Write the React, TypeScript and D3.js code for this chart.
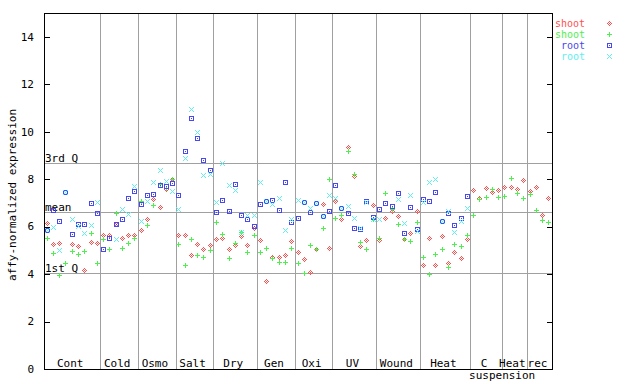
import React, { useEffect, useRef } from 'react';
import * as d3 from 'd3';

// sample groups along the x axis
const groups = ['Cont', 'Cold', 'Osmo', 'Salt', 'Dry', 'Gen', 'Oxi', 'UV', 'Wound', 'Heat', 'C suspension', 'Heat', 'rec'];
const groupSizes = [9, 6, 6, 6, 7, 6, 6, 7, 7, 8, 5, 4, 4];

// shoot, replicate 1 (red diamonds)
const shootA = [
  6.14, 5.26, 5.30, null, 5.26, 5.16, 4.15, 5.33, 5.30,
  5.64, 5.61, 6.10, 5.51, 5.61, 5.64,
  5.82, 6.31, 7.15, 6.82, 7.55, 7.97,
  5.64, 5.61, 4.80, 5.26, 5.05, 5.22,
  5.47, 5.51, 5.05, 5.20, 5.60, 5.19, 5.93,
  5.43, 3.69, 4.71, 4.71, 4.80, 5.39,
  4.90, 4.60, 4.08, 5.05, 6.95, 5.06,
  7.06, 6.31, 9.33, 8.13, 5.16, 5.40, 6.90,
  5.40, 6.36, 6.62, 6.44, 5.47, 5.72, 6.65,
  4.37, 5.51, 4.37, 5.60, 4.43, 4.92, 4.67, 5.47,
  7.52, 7.20, 7.62, 7.45, 7.53,
  7.66, 7.66, 7.57, 7.96,
  7.49, 7.66, 6.45, 7.20,
];

// shoot, replicate 2 (green plus)
const shootB = [
  5.51, 4.85, 3.92, 4.46, 4.95, 4.81, 4.95, 5.72, 4.46,
  5.44, 5.02, 6.54, 5.09, 5.27, 5.50,
  7.07, 6.06, 6.90, 7.79, 7.62, 8.00,
  5.26, 4.34, 5.47, 4.77, 4.71, 4.99,
  6.19, 5.68, 4.67, 5.30, 5.75, 4.92, 5.64,
  4.92, 5.09, 4.67, 4.50, 4.50, 5.09,
  4.46, 4.03, 5.22, 5.05, 5.93, 8.00,
  6.36, 6.48, 9.18, 8.21, 5.34, 5.02, 6.30,
  5.51, 7.38, 6.70, 6.10, 5.47, 5.39, 6.19,
  4.71, 4.00, 4.84, 5.02, 4.29, 5.26, 5.17, 5.64,
  6.45, 7.15, 7.24, 7.57, 7.24,
  7.28, 8.04, 7.41, 7.20,
  7.37, 6.69, 6.27, 6.19,
];

// root, replicate 1 (blue squares)
const rootA = [
  5.84, 6.68, 6.23, 7.44, 5.65, 6.10, 6.10, 6.96, 6.54,
  5.02, 5.48, 6.10, 6.28, 7.20, 7.49,
  6.94, 7.30, 7.37, 7.74, 7.70, 7.80,
  7.32, 9.18, 10.57, 9.73, 8.80, 8.38,
  6.61, 7.11, 6.65, 7.79, 6.48, 6.31, 6.02,
  6.95, 7.07, 7.11, 6.69, 7.87, 6.19,
  6.36, 7.00, 6.61, 6.97, 6.42, 6.65,
  7.72, 6.76, 6.57, 5.93, 5.86, 7.07, 6.38,
  6.74, 6.96, 6.86, 7.38, 5.72, 6.82, 5.89,
  7.15, 7.07, 7.45, 6.23, 6.57, 6.06, 6.36, 7.25,
  null, null, null, null, null,
  null, null, null, null,
  null, null, null, null,
];

// root, replicate 2 (cyan crosses)
const rootB = [
  5.84, 5.98, 4.98, 7.44, 6.28, 6.00, 5.69, 6.03, 7.00,
  null, null, 5.47, 6.74, 6.50, 7.69,
  6.20, 7.04, 7.87, 8.37, 7.90, 7.49,
  6.74, 8.88, 10.95, 9.98, 8.17, 8.21,
  7.03, 8.67, 7.75, 7.53, 5.75, 6.48, 6.48,
  7.87, 7.07, 6.95, 7.20, 5.85, 6.31,
  7.10, 7.00, 6.76, 6.97, 6.42, 7.32,
  7.20, 6.76, 6.86, 6.36, 5.90, 7.00, 6.30,
  6.28, null, null, 7.14, 6.14, 7.32, 5.80,
  7.00, 7.87, 8.00, 6.23, 6.65, 5.77, 6.23, 6.78,
  null, null, null, null, null,
  null, null, null, null,
  null, null, null, null,
];

const seriesNames = ['shoot', 'shoot', 'root', 'root'];
const refLabels = ['3rd Q', 'mean', '1st Q'];
const refValues = [8.69, 6.63, 4.05];
const yTicks = [0, 2, 4, 6, 8, 10, 12, 14];

// little pixel shapes, like the old bitmap plotter
const shapes = {
  diamond: [[0, -2], [-1, -1], [1, -1], [-2, 0], [0, 0], [2, 0], [-1, 1], [1, 1], [0, 2]],
  plus: [[-2, 0], [-1, 0], [0, 0], [1, 0], [2, 0], [0, -2], [0, -1], [0, 1], [0, 2]],
  square: [[-2, -2], [-1, -2], [0, -2], [1, -2], [2, -2], [-2, 2], [-1, 2], [0, 2], [1, 2], [2, 2],
    [-2, -1], [-2, 0], [-2, 1], [2, -1], [2, 0], [2, 1], [0, 0]],
  cross: [[-2, -2], [-1, -1], [0, 0], [1, 1], [2, 2], [-2, 2], [-1, 1], [1, -1], [2, -2]],
};

const pixPath = (offs: number[][], cx: number, cy: number) => {
  const px = Math.floor(cx);
  const py = Math.floor(cy);
  return offs.map(([dx, dy]) => `M${px + dx},${py + dy}h1v1h-1z`).join('');
};

const App = () => {
  const svgRef = useRef<SVGSVGElement>(null);

  useEffect(() => {
    const width = 640;
    const height = 384;
    const margin = { top: 13, right: 88, bottom: 15, left: 44 };
    const x0 = margin.left;
    const x1 = width - margin.right;
    const yTop = margin.top;
    const yBot = height - margin.bottom;
    const font = "'DejaVu Sans Mono', monospace";
    const grid = '#a0a0a0';

    const svg = d3.select(svgRef.current).attr('width', width).attr('height', height);
    svg.selectAll('*').remove();

    const n = d3.sum(groupSizes);
    const x = d3.scaleBand<number>().domain(d3.range(n)).range([x0, x1]).padding(0);
    const y = d3.scaleLinear().domain([0, 15]).range([yBot, yTop]);
    const cx = (i: number) => (x(i) as number) + x.bandwidth() / 2;

    const starts = groupSizes.map((s, i) => d3.sum(groupSizes.slice(0, i)));

    // group separators
    svg.append('g')
      .selectAll('line')
      .data(starts.slice(1))
      .enter()
      .append('line')
      .attr('x1', d => Math.round(x(d) as number) + 0.5)
      .attr('x2', d => Math.round(x(d) as number) + 0.5)
      .attr('y1', yTop)
      .attr('y2', yBot)
      .attr('stroke', grid);

    // quartile / mean lines
    svg.append('g')
      .selectAll('line')
      .data(refValues)
      .enter()
      .append('line')
      .attr('x1', x0)
      .attr('x2', x1)
      .attr('y1', d => Math.round(y(d)) + 0.5)
      .attr('y2', d => Math.round(y(d)) + 0.5)
      .attr('stroke', grid);

    svg.append('g')
      .selectAll('text')
      .data(refValues)
      .enter()
      .append('text')
      .attr('x', x0 + 1)
      .attr('y', d => Math.round(y(d)) - 1)
      .attr('font-family', font)
      .attr('font-size', 11)
      .text((d, i) => refLabels[i]);

    // frame
    svg.append('rect')
      .attr('x', x0 + 0.5)
      .attr('y', yTop + 0.5)
      .attr('width', x1 - x0)
      .attr('height', yBot - yTop)
      .attr('fill', 'none')
      .attr('stroke', '#000');

    // ticks on both sides, pointing in
    const tk = svg.append('g').attr('stroke', '#000');
    yTicks.forEach(t => {
      const ty = Math.round(y(t)) + 0.5;
      tk.append('line').attr('x1', x0).attr('x2', x0 + 6).attr('y1', ty).attr('y2', ty);
      tk.append('line').attr('x1', x1 - 5).attr('x2', x1).attr('y1', ty).attr('y2', ty);
    });

    svg.append('g')
      .selectAll('text')
      .data(yTicks)
      .enter()
      .append('text')
      .attr('x', 34)
      .attr('y', d => y(d))
      .attr('dy', '0.35em')
      .attr('text-anchor', 'end')
      .attr('font-family', font)
      .attr('font-size', 11)
      .text(d => d);

    svg.append('text')
      .attr('transform', `translate(12,${(yTop + yBot) / 2 + 4}) rotate(-90)`)
      .attr('dy', '0.35em')
      .attr('text-anchor', 'middle')
      .attr('font-family', font)
      .attr('font-size', 11)
      .text('affy-normalized expression');

    // group names, inside the frame at the bottom
    groups.forEach((g, i) => {
      const a = x(starts[i]) as number;
      const b = a + groupSizes[i] * x.step();
      const mid = (a + b) / 2 - 2;
      const words = g.split(' ');
      svg.append('text')
        .attr('x', mid)
        .attr('y', yBot - 2)
        .attr('text-anchor', 'middle')
        .attr('font-family', font)
        .attr('font-size', 11)
        .text(words[0]);
      if (words.length > 1) {
        svg.append('text')
          .attr('x', mid + 18)
          .attr('y', yBot + 10)
          .attr('text-anchor', 'middle')
          .attr('font-family', font)
          .attr('font-size', 11)
          .text(words.slice(1).join(' '));
      }
    });

    const series = [
      { values: shootA, color: '#ff5050', shape: shapes.diamond },
      { values: shootB, color: '#50ee50', shape: shapes.plus },
      { values: rootA, color: '#4848f0', shape: shapes.square },
      { values: rootB, color: '#60f0f0', shape: shapes.cross },
    ];

    series.forEach(s => {
      const d = s.values
        .map((v, i) => (v == null ? '' : pixPath(s.shape, cx(i), y(v))))
        .join('');
      svg.append('path')
        .attr('d', d)
        .attr('fill', s.color)
        .attr('shape-rendering', 'crispEdges');
    });

    // legend
    series.forEach((s, i) => {
      const ly = 23.5 + i * 11;
      svg.append('text')
        .attr('x', 585)
        .attr('y', ly)
        .attr('dy', '0.35em')
        .attr('text-anchor', 'end')
        .attr('font-family', font)
        .attr('font-size', 10)
        .attr('fill', s.color)
        .text(seriesNames[i]);
      svg.append('path')
        .attr('d', pixPath(s.shape, 609, ly))
        .attr('fill', s.color)
        .attr('shape-rendering', 'crispEdges');
    });
  }, []);

  return (
    <div style={{ position: 'absolute', left: 0, top: 0 }}>
      <svg ref={svgRef} style={{ display: 'block', background: '#fff' }}></svg>
    </div>
  );
};

export default App;
